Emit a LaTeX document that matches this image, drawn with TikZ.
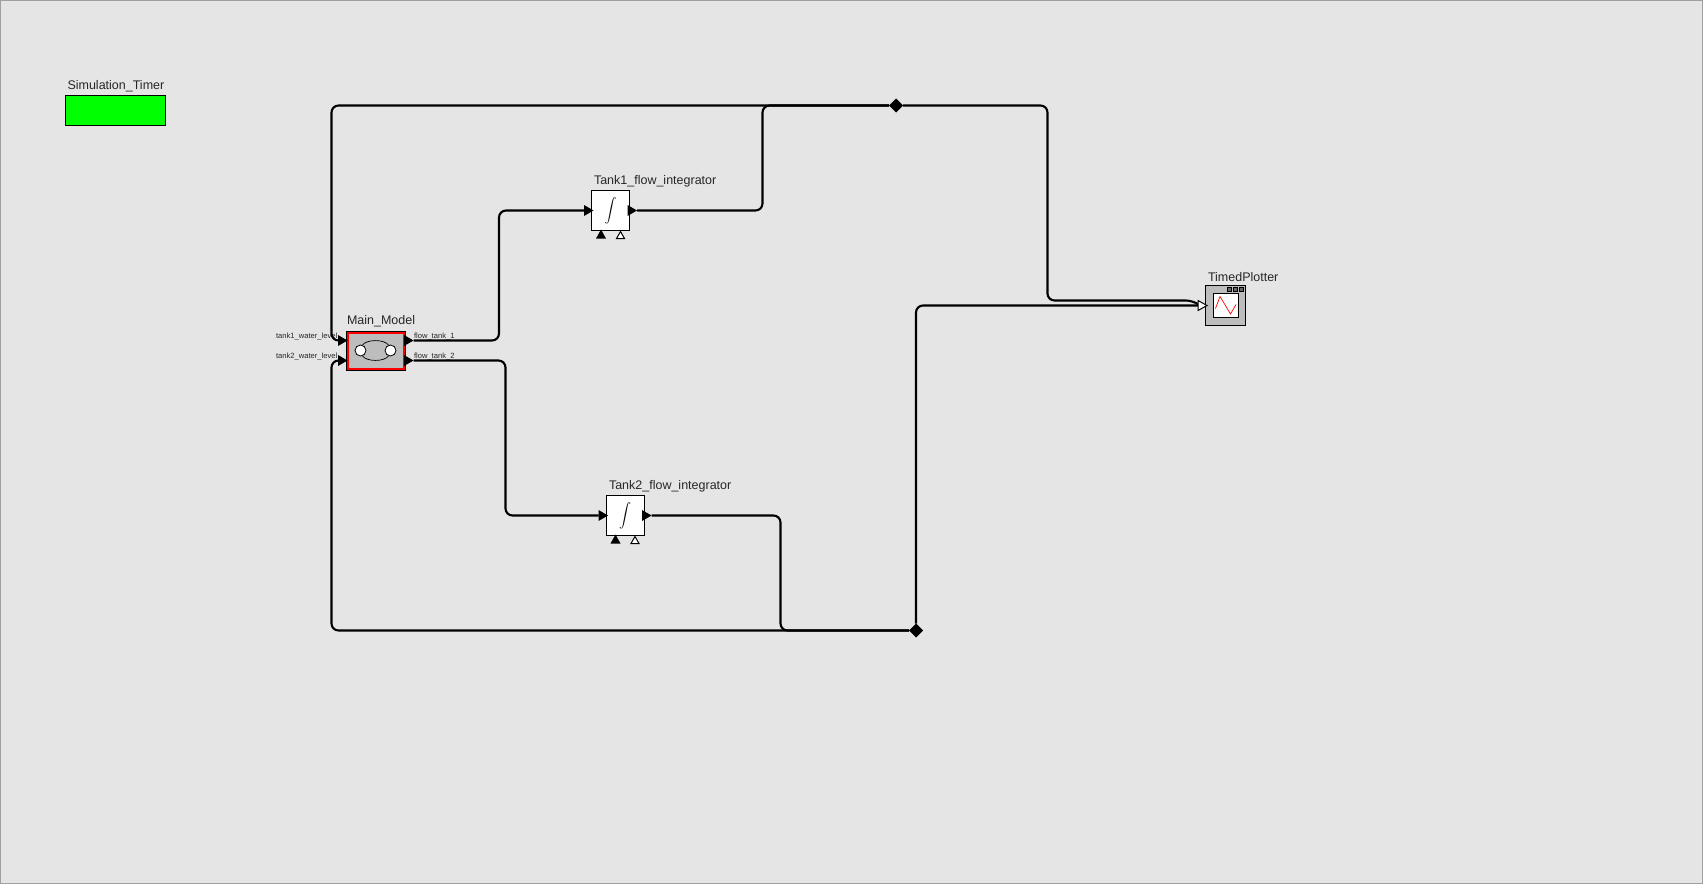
\documentclass[tikz,border=0pt]{standalone}
\usepackage{exscale}
\usepackage{fontspec}
\setmainfont{Liberation Sans}
\usetikzlibrary{positioning, shapes.geometric, arrows.meta, calc}
\definecolor{mybg}{RGB}{229, 229, 229}
\definecolor{myframe}{RGB}{160, 160, 160}
\definecolor{mygray}{RGB}{189, 189, 189}
\definecolor{mygreen}{RGB}{0, 255, 0}

\begin{document}
\begin{tikzpicture}[
    x=1pt, y=-1pt,
    every node/.style  = {inner sep=0pt, outer sep=0pt},
    node distance      = 0pt,
         blockNode/.style  = {rectangle, draw=black, line width=1pt, minimum width=38pt, minimum height=40pt},
         titleNode/.style  = {font=\fontsize{12.5}{13}\selectfont, text=black!85, anchor=base west},
         portText/.style   = {font=\fontsize{7.6}{8}\selectfont, text=black!85, anchor=base west},
         portNode/.style   = {isosceles triangle, isosceles triangle stretches, fill=black, minimum height=9.5pt, minimum width=11pt, anchor=apex},
         hollowPort/.style = {portNode, fill=white, draw=black, line width=1pt, minimum height=7pt, minimum width=8pt},
         joinNode/.style   = {diamond, fill=black, minimum width=14pt, minimum height=14pt},
         wire/.style       = {line width=2.1pt, rounded corners=7pt, black},
         screenBtn/.style  = {rectangle, draw=black, fill=black!60, line width=0.8pt, minimum size=4.5pt}
]

\path[fill=mybg, draw=myframe, line width=1pt] (0.5,0.5) rectangle (1702.5,883.5);
\useasboundingbox (0,0) rectangle (1703,884);

% timer
\node[rectangle, draw=black, fill=mygreen, line width=1pt, minimum width=100pt, minimum height=30pt, anchor=north west] (timer) at (65.5,95.5) {};
\node[titleNode] (timerTitle) at (67.5,89) {Simulation\_Timer};

% model
\node[rectangle, draw=black, fill=mygray, line width=1pt, minimum width=59pt, minimum height=39pt, anchor=north west] (mainModel) at (346,331.5) {};
\node[rectangle, draw=red, line width=2pt, minimum width=56pt, minimum height=36pt] (mainInner) at (mainModel.center) {};
\node[titleNode] (mainTitle) at (347,324) {Main\_Model};
\node[circle, draw=black, fill=white, line width=0.8pt, minimum size=11pt] (holeLeft) at (360.5,350.5) {};
\node[circle, draw=black, fill=white, line width=0.8pt, minimum size=11pt] (holeRight) at (390.5,350.5) {};
\draw[line width=0.7pt] (holeLeft.70) .. controls (366,339) and (385,339) .. (holeRight.110);
\draw[line width=0.7pt] (holeLeft.-70) .. controls (366,362) and (385,362) .. (holeRight.-110);

\node[portNode] (inOne) at (347.5,340.5) {};
\node[portNode] (inTwo) at (347.5,360.5) {};
\node[portNode] (outOne) at (413.5,340.5) {};
\node[portNode] (outTwo) at (413.5,360.5) {};
\node[portText] (inOneText) at (276,338) {tank1\_water\_level};
\node[portText] (inTwoText) at (276,358) {tank2\_water\_level};
\node[portText] (outOneText) at (414,338) {flow\_tank\_1};
\node[portText] (outTwoText) at (414,358) {flow\_tank\_2};

% integrators
\node[blockNode, fill=white, right=186.5pt of mainModel, yshift=140.5pt] (tankOne) {};
\node[blockNode, fill=white, right=201pt of mainModel, yshift=-164.5pt] (tankTwo) {};
\node[font=\fontsize{13}{13}\selectfont] (intOne) at (tankOne.center) {$\displaystyle\int$};
\node[font=\fontsize{13}{13}\selectfont] (intTwo) at (tankTwo.center) {$\displaystyle\int$};
\node[titleNode] (tankOneTitle) at (594,184) {Tank1\_flow\_integrator};
\node[titleNode] (tankTwoTitle) at (609,489) {Tank2\_flow\_integrator};

\node[portNode] (tankOneIn) at ($(tankOne.west)+(2,0)$) {};
\node[portNode] (tankOneOut) at ($(tankOne.east)+(7.5,0)$) {};
\node[portNode] (tankTwoIn) at ($(tankTwo.west)+(2,0)$) {};
\node[portNode] (tankTwoOut) at ($(tankTwo.east)+(7.5,0)$) {};
\node[portNode, shape border rotate=90, minimum height=9pt, minimum width=10pt] (tankOneReset) at ($(tankOne.south)+(-9.5,-1)$) {};
\node[hollowPort, shape border rotate=90] (tankOneInit) at ($(tankOne.south)+(10,1)$) {};
\node[portNode, shape border rotate=90, minimum height=9pt, minimum width=10pt] (tankTwoReset) at ($(tankTwo.south)+(-9.5,-1)$) {};
\node[hollowPort, shape border rotate=90] (tankTwoInit) at ($(tankTwo.south)+(10,1)$) {};

% plotter
\node[blockNode, fill=mygray, anchor=north west, minimum width=40pt] (plotter) at (1205.5,285.5) {};
\node[rectangle, draw=black, fill=white, line width=1pt, minimum width=24.5pt, minimum height=24pt, anchor=north west] (screen) at (1213.5,293.5) {};
\draw[red, line width=0.7pt] (1215.5,308.5) -- (1220,296.5) -- (1230.5,314) -- (1236,304.5);
\node[screenBtn] (btnOne) at (1229.5,289.5) {};
\node[screenBtn] (btnTwo) at (1235.5,289.5) {};
\node[screenBtn] (btnThree) at (1241.5,289.5) {};
\node[titleNode] (plotterTitle) at (1208,281.5) {TimedPlotter};

% joins
\node[joinNode] (joinTop) at (896,105.5) {};
\node[joinNode] (joinBottom) at (916,630.5) {};
\coordinate (plotterIn) at (1200,305.5);

% wires
\draw[wire] (outOne) -- (499,340.5) -- (499,210.5) -- (tankOneIn);
\draw[wire] (outTwo) -- (505.5,360.5) -- (505.5,515.5) -- (tankTwoIn);
\draw[wire] (tankOneOut) -- (762.5,210.5) -- (762.5,105.5) -- (joinTop);
\draw[wire] (tankTwoOut) -- (780.5,515.5) -- (780.5,630.5) -- (joinBottom);
\draw[wire] (joinTop) -- (331.5,105.5) -- (331.5,340.5) -- (inOne);
\draw[wire] (joinBottom) -- (331.5,630.5) -- (331.5,360.5) -- (inTwo);
\draw[wire] (joinTop) -- (1047.5,105.5) -- (1047.5,300.5) -- (1193,300.5) -- (plotterIn);
\draw[wire] (joinBottom) -- (916,305.5) -- (plotterIn);
\node[hollowPort, minimum height=9pt, minimum width=10pt] (plotterPort) at ($(plotter.west)+(1.5,0)$) {};
\end{tikzpicture}
\end{document}
